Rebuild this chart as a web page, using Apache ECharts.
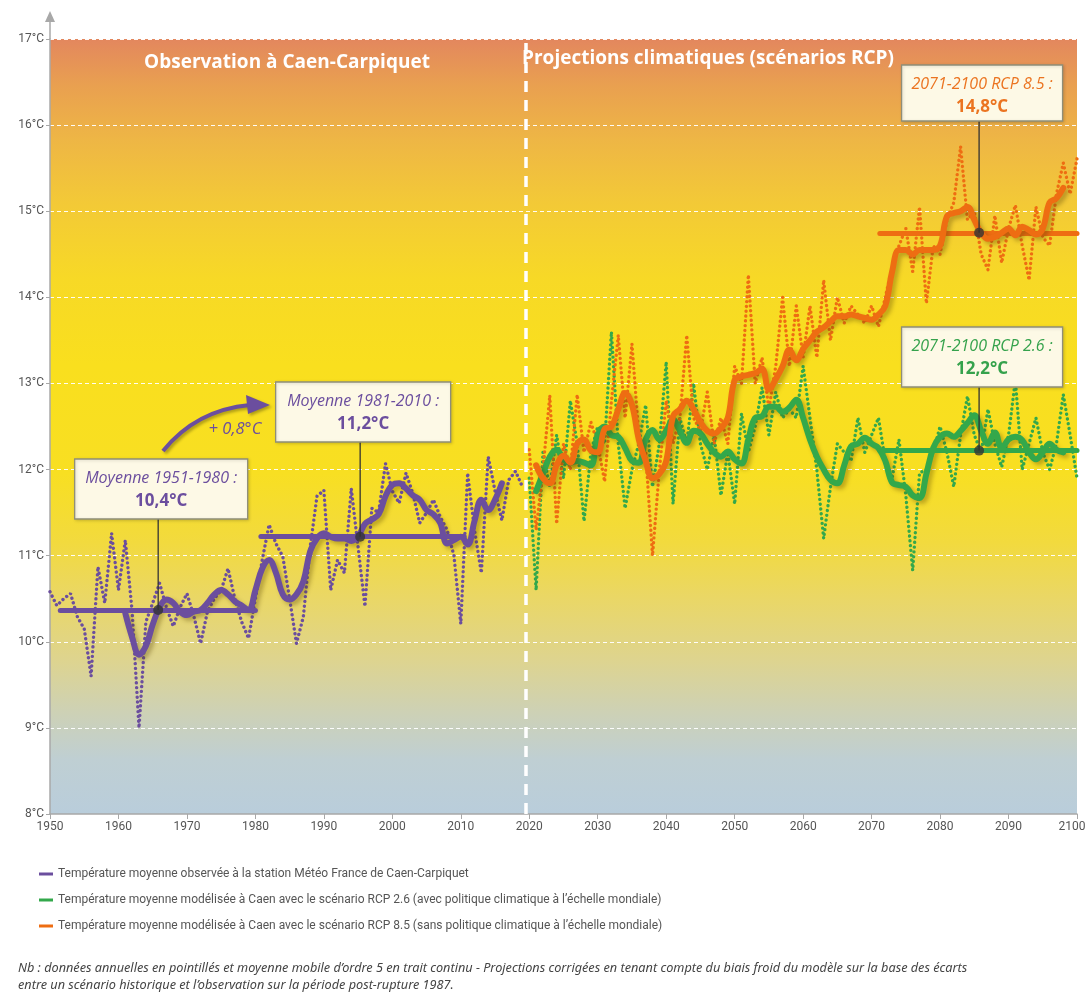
<!DOCTYPE html>
<html>
<head>
<meta charset="utf-8">
<script src="https://cdn.jsdelivr.net/npm/echarts@6/dist/echarts.min.js"></script>
<style>
html, body { margin: 0; background: #fff; overflow: hidden; }
#main { width: 1085px; height: 992px; }
</style>
</head>
<body>
<div id="main"></div>
<script>
// annual values (dotted) and 5-year moving average (solid)
var obsStart = 1950;
var obsAnnual = [10.58, 10.42, 10.5, 10.56, 10.29, 10.15, 9.6, 10.87, 10.45, 11.26,
  10.6, 11.18, 10.35, 9.0, 10.23, 10.45, 10.68, 10.4, 10.18, 10.4,
  10.56, 10.3, 9.98, 10.35, 10.5, 10.6, 10.85, 10.5, 10.23, 10.04,
  10.5, 10.95, 11.36, 11.14, 10.99, 10.5, 9.98, 10.29, 11.1, 11.69,
  11.76, 10.6, 10.95, 10.8, 11.78, 11.1, 10.41, 11.55, 11.5, 12.07,
  11.75, 11.61, 11.96, 11.72, 11.38, 11.5, 11.65, 11.45, 11.3, 11.0,
  10.21, 11.96, 11.3, 10.8, 12.15, 11.75, 11.41, 11.88, 11.98, 11.8];
var obsSmoothStart = 1961;
var obsSmooth = [10.33, 10.05, 9.85, 9.95, 10.2, 10.4, 10.49, 10.45, 10.35,
  10.31, 10.35, 10.37, 10.45, 10.55, 10.6, 10.55, 10.47, 10.42, 10.37,
  10.6, 10.85, 10.95, 10.8, 10.55, 10.49, 10.55, 10.7, 11.05, 11.2,
  11.26, 11.22, 11.2, 11.2, 11.17, 11.22, 11.37, 11.42, 11.48, 11.69,
  11.82, 11.84, 11.78, 11.7, 11.65, 11.53, 11.48, 11.38, 11.14, 11.18,
  11.22, 11.13, 11.4, 11.65, 11.53, 11.65, 11.84];

var projStart = 2020;
var rcp26Annual = [11.9, 10.6, 12.2, 11.8, 12.4, 11.9, 12.8, 12.3, 11.4, 12.2,
  12.5, 12.3, 13.6, 12.3, 11.55, 12.0, 12.3, 12.75, 11.8, 12.3,
  13.25, 11.6, 12.6, 12.3, 13.0, 12.3, 12.0, 12.4, 11.7, 12.2,
  11.6, 12.65, 12.2, 12.5, 12.95, 12.4, 12.9, 12.6, 12.7, 12.6,
  13.2, 12.6, 12.0, 11.2, 11.8, 12.3, 12.2, 12.1, 12.6, 12.2,
  12.4, 12.6, 12.1, 11.9, 12.35, 11.7, 10.83, 11.96, 12.0, 12.2,
  12.5, 12.2, 11.8, 12.4, 12.85, 12.4, 12.2, 12.7, 12.3, 12.03,
  12.4, 13.04, 12.0, 12.3, 12.6, 12.2, 12.0, 12.3, 12.87, 12.4, 11.9];
var rcp85Annual = [12.23, 11.3, 12.0, 12.86, 11.37, 12.3, 12.0, 12.87, 12.2, 12.55,
  12.3, 11.86, 12.8, 13.56, 12.6, 13.46, 12.4, 12.2, 11.0, 12.0,
  12.8, 12.3, 12.6, 13.56, 12.6, 12.45, 12.9, 12.3, 12.6, 12.3,
  13.2, 13.0, 14.26, 13.0, 13.3, 12.7, 13.2, 14.0, 13.2, 13.9,
  13.3, 13.9, 13.3, 14.2, 13.5, 14.0, 13.7, 13.9, 13.8, 13.7,
  13.9, 13.66, 14.0, 14.35, 14.6, 14.8, 14.3, 15.05, 13.93, 14.6,
  14.5, 14.9, 15.1, 15.75, 14.9, 15.0, 14.5, 14.32, 14.95, 14.4,
  14.8, 15.07, 14.6, 14.2, 15.05, 14.7, 14.6, 15.2, 15.56, 15.2, 15.61];
var projSmoothStart = 2021;
var rcp26Smooth = [11.75, 11.95, 12.15, 12.23, 12.12, 12.08, 12.1, 12.08, 12.05,
  12.4, 12.5, 12.4, 12.38, 12.25, 12.1, 12.08, 12.35, 12.46, 12.35,
  12.45, 12.58, 12.45, 12.31, 12.45, 12.42, 12.3, 12.2, 12.15, 12.21,
  12.12, 12.07, 12.35, 12.6, 12.62, 12.73, 12.73, 12.67, 12.72, 12.81,
  12.6, 12.35, 12.15, 12.0, 11.88, 11.84, 12.05, 12.27, 12.3, 12.37,
  12.3, 12.25, 12.1, 11.85, 11.82, 11.8, 11.7, 11.67, 11.95, 12.25,
  12.38, 12.42, 12.38, 12.45, 12.54, 12.63, 12.45, 12.3, 12.43, 12.25,
  12.35, 12.38, 12.34, 12.2, 12.12, 12.2, 12.3, 12.23, 12.2];
var rcp85Smooth = [12.05, 11.9, 11.84, 12.05, 12.16, 12.08, 12.3, 12.35, 12.22,
  12.2, 12.47, 12.5, 12.7, 12.89, 12.75, 12.35, 12.1, 11.9, 11.95,
  12.1, 12.62, 12.7, 12.8, 12.7, 12.55, 12.45, 12.42, 12.48, 12.6,
  13.04, 13.08, 13.1, 13.12, 13.17, 12.93, 13.05, 13.2, 13.39, 13.27,
  13.4, 13.5, 13.6, 13.65, 13.72, 13.78, 13.78, 13.8, 13.78, 13.76,
  13.74, 13.8, 13.9, 14.3, 14.55, 14.55, 14.5, 14.55, 14.55, 14.55,
  14.6, 14.94, 14.98, 15.0, 15.05, 14.9, 14.75, 14.68, 14.7, 14.75,
  14.8, 14.72, 14.82, 14.78, 14.73, 14.8, 15.1, 15.15, 15.27];

// period means: [from, to, value, marker year, label title, label value]
var means = [
  [1951.5, 1980, 10.37, 1965.8, 'Moyenne 1951-1980 :', '10,4°C'],
  [1980.8, 2010.5, 11.22, 1995.3, 'Moyenne 1981-2010 :', '11,2°C'],
  [2071.2, 2100, 12.22, 2085.7, '2071-2100 RCP 2.6 :', '12,2°C'],
  [2071.2, 2100, 14.75, 2085.7, '2071-2100 RCP 8.5 :', '14,8°C']
];
var splitYear = 2019.5;

var names = [
  'Température moyenne observée à la station Météo France de Caen-Carpiquet',
  'Température moyenne modélisée à Caen avec le scénario RCP 2.6 (avec politique climatique à l’échelle mondiale)',
  'Température moyenne modélisée à Caen avec le scénario RCP 8.5 (sans politique climatique à l’échelle mondiale)'
];
var PURPLE = '#6B4E9E', GREEN = '#33A84B', ORANGE = '#EE6D12';

function pairs(start, arr) {
  return arr.map(function (v, i) { return [start + i, v]; });
}
function meanLine(m) {
  return [{ coord: [m[0], m[2]] }, { coord: [m[1], m[2]] }];
}

var dotted = function (c) {
  return { color: c, width: 3.4, type: [0.01, 4.8], cap: 'round' };
};
var shadowed = function (c) {
  return { color: c, width: 6, cap: 'round', join: 'round',
    shadowColor: 'rgba(80,60,0,0.35)', shadowBlur: 4, shadowOffsetX: 3, shadowOffsetY: 3 };
};
var font = "Roboto, 'Noto Sans', sans-serif";
var noteFont = "'Noto Sans', sans-serif";

var chart = echarts.init(document.getElementById('main'));
var option = {
  animation: false,
  backgroundColor: '#fff',
  grid: {
    left: 50, right: 8, top: 39, bottom: 178, show: true, borderWidth: 0,
    containLabel: false, outerBoundsMode: 'none',
    backgroundColor: new echarts.graphic.LinearGradient(0, 0, 0, 1, [
      { offset: 0, color: '#E3875E' },
      { offset: 0.06, color: '#E9A050' },
      { offset: 0.13, color: '#EEB645' },
      { offset: 0.21, color: '#F3C937' },
      { offset: 0.31, color: '#F7D926' },
      { offset: 0.42, color: '#F9DF1E' },
      { offset: 0.56, color: '#F8DF22' },
      { offset: 0.65, color: '#F2DA3E' },
      { offset: 0.72, color: '#EAD765' },
      { offset: 0.8, color: '#DED48E' },
      { offset: 0.87, color: '#CDD1B6' },
      { offset: 0.93, color: '#BFCFD3' },
      { offset: 1, color: '#B9CDDB' }
    ])
  },
  xAxis: {
    type: 'value', min: 1950, max: 2100, interval: 10,
    axisLine: { lineStyle: { color: '#A8A8A8', width: 1.5 } },
    axisTick: { length: 5, lineStyle: { color: '#A8A8A8' } },
    axisLabel: { color: '#555', fontSize: 12, fontFamily: font, margin: 7,
      formatter: function (v) { return v === 2100 ? '{r|2100}' : String(v); },
      rich: { r: { color: '#555', fontSize: 12, fontFamily: font, padding: [0, 10, 0, 0] } } },
    splitLine: { show: false }
  },
  yAxis: {
    type: 'value', min: 8, max: 17, interval: 1,
    axisLine: { show: true, lineStyle: { color: '#A8A8A8', width: 1.5 } },
    axisTick: { show: true, length: 4, lineStyle: { color: '#A8A8A8' } },
    axisLabel: { color: '#555', fontSize: 12, fontFamily: font, margin: 6,
      formatter: function (v) { return v + '°C'; } },
    splitLine: { show: true, lineStyle: { color: 'rgba(255,255,255,0.95)', type: [4, 3], width: 1 } }
  },
  legend: {
    orient: 'vertical', left: 34, top: 862, itemGap: 12,
    itemWidth: 14, itemHeight: 3, icon: 'rect',
    textStyle: { color: '#555', fontSize: 12, fontFamily: font, lineHeight: 14 },
    data: names
  },
  series: [
    { type: 'line', name: 'obs-annual', data: pairs(obsStart, obsAnnual), showSymbol: false,
      lineStyle: dotted(PURPLE), z: 3,
      markLine: { silent: true, symbol: 'none', label: { show: false },
        lineStyle: { color: '#fff', type: [11, 8], width: 3.5 },
        data: [{ xAxis: splitYear }] } },
    { type: 'line', name: 'rcp26-annual', data: pairs(projStart, rcp26Annual), showSymbol: false,
      lineStyle: dotted(GREEN), z: 3 },
    { type: 'line', name: 'rcp85-annual', data: pairs(projStart, rcp85Annual), showSymbol: false,
      lineStyle: dotted(ORANGE), z: 3 },
    { type: 'line', name: names[0], color: PURPLE, data: pairs(obsSmoothStart, obsSmooth),
      showSymbol: false, smooth: 0.4, lineStyle: shadowed(PURPLE), z: 4,
      markLine: { silent: true, symbol: 'none', label: { show: false },
        lineStyle: { color: PURPLE, type: 'solid', width: 5, cap: 'round' },
        data: [meanLine(means[0]), meanLine(means[1])] } },
    { type: 'line', name: names[1], color: GREEN, data: pairs(projSmoothStart, rcp26Smooth),
      showSymbol: false, smooth: 0.4, lineStyle: shadowed(GREEN), z: 4,
      markLine: { silent: true, symbol: 'none', label: { show: false },
        lineStyle: { color: GREEN, type: 'solid', width: 5, cap: 'round' },
        data: [meanLine(means[2])] } },
    { type: 'line', name: names[2], color: ORANGE, data: pairs(projSmoothStart, rcp85Smooth),
      showSymbol: false, smooth: 0.4, lineStyle: shadowed(ORANGE), z: 5,
      markLine: { silent: true, symbol: 'none', label: { show: false },
        lineStyle: { color: ORANGE, type: 'solid', width: 5, cap: 'round' },
        data: [meanLine(means[3])] } },
    { type: 'scatter', name: 'means', symbolSize: 10, z: 8,
      itemStyle: { color: '#333' },
      data: means.map(function (m) { return [m[3], m[2]]; }) }
  ]
};
chart.setOption(option);

// annotation boxes, arrow, titles and footnote
var boxSpecs = [
  { top: 459, w: 173, h: 60, color: PURPLE },
  { top: 382, w: 175, h: 60, color: PURPLE },
  { top: 327, w: 161, h: 60, color: '#35A24C' },
  { top: 65, w: 161, h: 56, color: '#EB7420' }
];
var g = [];
means.forEach(function (m, i) {
  var p = chart.convertToPixel({ gridIndex: 0 }, [m[3], m[2]]);
  var b = boxSpecs[i];
  var cx = p[0] + 3;
  g.push({ type: 'line', z: 20, shape: { x1: p[0], y1: b.top + b.h, x2: p[0], y2: p[1] },
    style: { stroke: '#333', lineWidth: 1.3 } });
  g.push({ type: 'rect', z: 21, shape: { x: cx - b.w / 2, y: b.top, width: b.w, height: b.h },
    style: { fill: '#FDF9E6', stroke: '#8F8E78', lineWidth: 1.3,
      shadowColor: 'rgba(0,0,0,0.15)', shadowBlur: 3, shadowOffsetX: 1, shadowOffsetY: 1 } });
  g.push({ type: 'text', z: 22, x: cx, y: b.top + 19, style: { text: m[4], fill: b.color,
    font: 'italic 16px "Open Sans", "Noto Sans", sans-serif', align: 'center', verticalAlign: 'middle' } });
  g.push({ type: 'text', z: 22, x: cx, y: b.top + 42, style: { text: m[5], fill: b.color,
    font: 'bold 17px "Open Sans", "Noto Sans", sans-serif', align: 'center', verticalAlign: 'middle' } });
});
g.push(
  { type: 'bezierCurve', z: 20, shape: { x1: 163, y1: 451, cpx1: 196, cpy1: 410, x2: 250, y2: 405 },
    style: { stroke: PURPLE, lineWidth: 4, fill: null, shadowColor: 'rgba(0,0,0,0.3)', shadowBlur: 3, shadowOffsetX: 2, shadowOffsetY: 2 } },
  { type: 'polygon', z: 20, shape: { points: [[246, 395], [270, 405], [248, 414]] },
    style: { fill: PURPLE, shadowColor: 'rgba(0,0,0,0.3)', shadowBlur: 3, shadowOffsetX: 2, shadowOffsetY: 2 } },
  { type: 'text', z: 20, x: 235, y: 429, style: { text: '+ 0,8°C', fill: PURPLE,
    font: 'italic 16.5px "Open Sans", "Noto Sans", sans-serif', align: 'center', verticalAlign: 'middle' } },
  { type: 'text', z: 20, x: 287, y: 63, style: { text: 'Observation à Caen-Carpiquet', fill: '#fff',
    font: 'bold 19px "Open Sans", "Noto Sans", sans-serif', align: 'center', verticalAlign: 'middle' } },
  { type: 'text', z: 20, x: 708, y: 59, style: { text: 'Projections climatiques (scénarios RCP)', fill: '#fff',
    font: 'bold 19px "Open Sans", "Noto Sans", sans-serif', align: 'center', verticalAlign: 'middle' } },
  { type: 'line', z: 20, shape: { x1: 50, y1: 39, x2: 50, y2: 18 }, style: { stroke: '#A8A8A8', lineWidth: 1.5 } },
  { type: 'polygon', z: 20, shape: { points: [[45, 22], [50, 11], [55, 22]] }, style: { fill: '#A8A8A8' } },
  { type: 'text', z: 20, x: 18, y: 968, style: {
    text: 'Nb : données annuelles en pointillés et moyenne mobile d’ordre 5 en trait continu - Projections corrigées en tenant compte du biais froid du modèle sur la base des écarts',
    fill: '#444', font: 'italic 12.7px ' + noteFont, verticalAlign: 'middle' } },
  { type: 'text', z: 20, x: 18, y: 985, style: {
    text: 'entre un scénario historique et l’observation sur la période post-rupture 1987.',
    fill: '#444', font: 'italic 12.7px ' + noteFont, verticalAlign: 'middle' } }
);
chart.setOption({ graphic: g });
</script>
</body>
</html>
